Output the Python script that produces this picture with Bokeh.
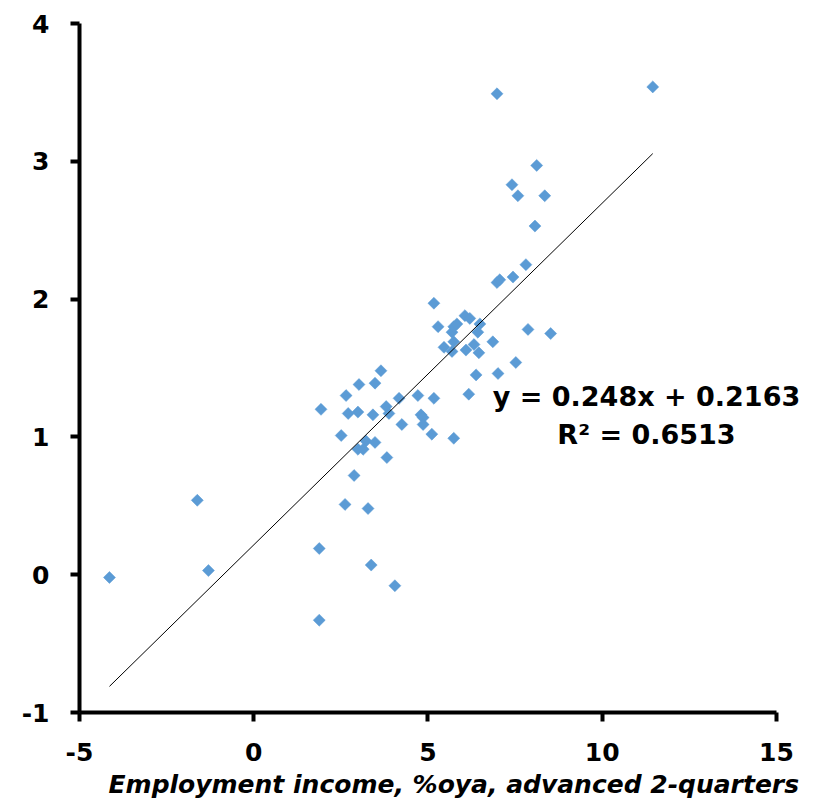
import numpy as np
from bokeh.plotting import figure
from bokeh.models import Range1d, FixedTicker, Title, ColumnDataSource, Label
from bokeh.embed import file_html
from bokeh.resources import INLINE

# Employment income, %oya, advanced 2 quarters
income = [-4.14, -1.62, -1.30, 1.88, 1.88, 2.62, 3.28, 3.37, 4.05, 2.88,
          1.93, 2.51, 2.65, 2.71, 3.02, 2.99, 3.42, 3.48, 3.65, 3.80,
          3.88, 4.17, 4.25, 4.71, 4.80, 4.86, 4.86, 5.17, 5.11, 5.74,
          6.17, 6.38, 7.01, 7.52, 7.87, 8.52, 5.17, 5.29, 5.46, 5.69,
          5.69, 5.74, 5.83, 5.74, 6.06, 6.20, 6.49, 6.43, 6.09, 6.32,
          6.46, 6.86, 6.98, 7.06, 3.22, 2.99, 3.14, 3.48, 3.82, 6.98,
          11.45, 8.12, 7.41, 7.58, 8.35, 8.07, 7.81, 7.44]
# Dependent variable
yvals = [-0.02, 0.54, 0.03, 0.19, -0.33, 0.51, 0.48, 0.07, -0.08, 0.72,
         1.20, 1.01, 1.30, 1.17, 1.38, 1.18, 1.16, 1.39, 1.48, 1.22,
         1.17, 1.28, 1.09, 1.30, 1.16, 1.14, 1.09, 1.28, 1.02, 0.99,
         1.31, 1.45, 1.46, 1.54, 1.78, 1.75, 1.97, 1.80, 1.65, 1.62,
         1.76, 1.80, 1.82, 1.69, 1.88, 1.86, 1.82, 1.76, 1.63, 1.67,
         1.61, 1.69, 2.12, 2.14, 0.97, 0.91, 0.91, 0.96, 0.85, 3.49,
         3.54, 2.97, 2.83, 2.75, 2.75, 2.53, 2.25, 2.16]

slope = 0.248
intercept = 0.2163
r_squared = 0.6513

x_ticks = [-5, 0, 5, 10, 15]
x_tick_labels = ["-5", "0", "5", "10", "15"]
y_ticks = [-1, 0, 1, 2, 3, 4]
y_tick_labels = ["-1", "0", "1", "2", "3", "4"]
x_label = "Employment income, %oya, advanced 2-quarters"

FONT = "DejaVu Sans"
BLUE = "#5B9BD5"

# x range runs a little past 15 so the equation text has room; the axis
# line itself stops at 15 via bounds
p = figure(width=823, height=802, output_backend="svg", toolbar_location=None,
           x_range=Range1d(-5, 16.12), y_range=Range1d(-1, 4),
           min_border_left=79, min_border_right=8, min_border_top=23,
           min_border_bottom=81)
p.outline_line_color = None
p.xgrid.visible = False
p.ygrid.visible = False
p.background_fill_color = "white"
p.border_fill_color = "white"

for ax in (p.xaxis[0], p.yaxis[0]):
    ax.axis_line_width = 4
    ax.axis_line_color = "black"
    ax.major_tick_line_width = 4
    ax.major_tick_line_color = "black"
    ax.major_tick_out = 9
    ax.major_tick_in = 0
    ax.minor_tick_line_color = None
    ax.major_label_text_font = FONT
    ax.major_label_text_font_style = "bold"
    ax.major_label_text_font_size = "25px"
    ax.major_label_text_color = "black"

p.xaxis.ticker = FixedTicker(ticks=x_ticks)
p.yaxis.ticker = FixedTicker(ticks=y_ticks)
p.xaxis.bounds = (x_ticks[0], x_ticks[-1])
p.xaxis.major_label_overrides = dict(zip(x_ticks, x_tick_labels))
p.yaxis.major_label_overrides = dict(zip(y_ticks, y_tick_labels))
p.xaxis.major_label_standoff = 21
p.yaxis.major_label_standoff = 21

# data points
src = ColumnDataSource(dict(x=income, y=yvals))
p.scatter("x", "y", source=src, marker="square", size=8.5, angle=np.pi / 4,
          fill_color=BLUE, line_color=BLUE, line_width=0.5)

# trend line
xmin, xmax = min(income), max(income)
p.line([xmin, xmax], [slope * xmin + intercept, slope * xmax + intercept],
       line_color="black", line_width=1)

# equation annotation
eq_x = 11.27
for yy, txt in ((1.29, f"y = {slope}x + {intercept}"),
                (1.02, f"R\u00b2 = {r_squared}")):
    p.add_layout(Label(x=eq_x, y=yy, text=txt, text_font="DejaVu Sans",
                       text_font_style="bold", text_font_size="27px",
                       text_align="center", text_baseline="middle",
                       text_color="black"))

t = Title(text=x_label, align="left", offset=29, text_font=FONT,
          text_font_style="bold italic", text_font_size="25px",
          text_color="black", standoff=8)
p.add_layout(t, "below")

open("out.html", "w").write(file_html(p, INLINE))
